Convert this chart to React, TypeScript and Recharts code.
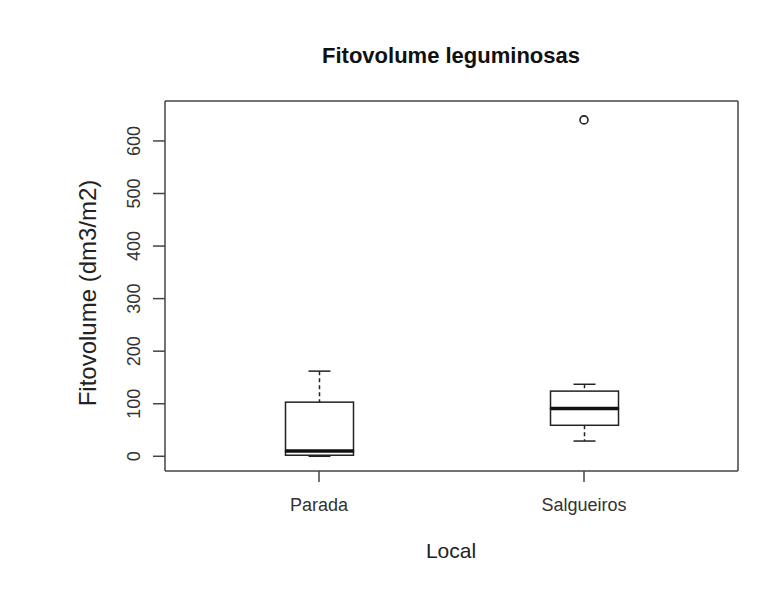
import React from "react";
import { ComposedChart, Bar, Scatter, XAxis, YAxis } from "recharts";

const categories = ["Parada", "Salgueiros"];
const whiskerLow = [0, 29];
const quartile1 = [2, 59];
const medians = [10, 91];
const quartile3 = [103, 124];
const whiskerHigh = [162, 137];
const outliers = [null, 640];
const yTicks = [0, 100, 200, 300, 400, 500, 600];

const font = "'Liberation Sans', Arial, sans-serif";
const ink = "#222";

// stacked pieces: invisible base, lower whisker, lower half of box, upper half, upper whisker
const rows = categories.map((local, i) => ({
  local,
  base: whiskerLow[i],
  lowWhisker: quartile1[i] - whiskerLow[i],
  lowerBox: medians[i] - quartile1[i],
  upperBox: quartile3[i] - medians[i],
  highWhisker: whiskerHigh[i] - quartile3[i],
  outlier: outliers[i],
}));

const CAP = 22;

const LowWhisker = (p: any) => {
  const cx = p.x + p.width / 2;
  const bottom = p.y + p.height;
  return (
    <g>
      <line x1={cx} x2={cx} y1={p.y} y2={bottom} stroke={ink} strokeWidth={1.5} strokeDasharray="4 3" />
      <line x1={cx - CAP / 2} x2={cx + CAP / 2} y1={bottom} y2={bottom} stroke={ink} strokeWidth={1.5} />
    </g>
  );
};

const HighWhisker = (p: any) => {
  const cx = p.x + p.width / 2;
  return (
    <g>
      <line x1={cx} x2={cx} y1={p.y} y2={p.y + p.height} stroke={ink} strokeWidth={1.5} strokeDasharray="4 3" />
      <line x1={cx - CAP / 2} x2={cx + CAP / 2} y1={p.y} y2={p.y} stroke={ink} strokeWidth={1.5} />
    </g>
  );
};

const BoxHalf = (p: any) => (
  <rect x={p.x} y={p.y} width={p.width} height={Math.max(p.height, 0)} fill="#fff" stroke={ink} strokeWidth={1.5} />
);

const UpperBox = (p: any) => {
  const bottom = p.y + p.height;
  return (
    <g>
      <rect x={p.x} y={p.y} width={p.width} height={Math.max(p.height, 0)} fill="#fff" stroke={ink} strokeWidth={1.5} />
      <line x1={p.x} x2={p.x + p.width} y1={bottom} y2={bottom} stroke="#111" strokeWidth={3.5} />
    </g>
  );
};

const OutlierDot = (p: any) => {
  if (p.payload?.outlier == null) return <g />;
  return <circle cx={p.cx} cy={p.cy} r={4} fill="none" stroke={ink} strokeWidth={1.6} />;
};

const YTick = ({ x, y, payload }: any) => (
  <text x={x - 13} y={y} transform={`rotate(-90 ${x - 13} ${y})`} textAnchor="middle" fontSize={18} fill="#333" fontFamily={font}>
    {payload.value}
  </text>
);

export default function App() {
  return (
    <div style={{ position: "absolute", left: 0, top: 0, width: 771, height: 590, background: "#fff" }}>
      <ComposedChart width={771} height={590} data={rows} margin={{ top: 100, right: 32, bottom: 69, left: 105 }} barSize={68}>
        <XAxis
          dataKey="local"
          height={50}
          padding={{ left: 21.5, right: 21.5 }}
          tickSize={11}
          tickMargin={16}
          stroke="#444"
          strokeWidth={1.5}
          tick={{ fontSize: 18, fill: "#333", fontFamily: font }}
        />
        <XAxis
          xAxisId="top"
          orientation="top"
          dataKey="local"
          height={1}
          padding={{ left: 21.5, right: 21.5 }}
          tick={false}
          tickLine={false}
          axisLine={{ stroke: "#444", strokeWidth: 1.5 }}
        />
        <YAxis
          domain={[-28, 676]}
          ticks={yTicks}
          width={60}
          tickSize={12}
          tickMargin={0}
          stroke="#444"
          strokeWidth={1.5}
          tick={<YTick />}
          allowDataOverflow
        />
        <YAxis
          yAxisId="right"
          orientation="right"
          domain={[-28, 676]}
          width={1}
          tick={false}
          tickLine={false}
          axisLine={{ stroke: "#444", strokeWidth: 1.5 }}
        />
        <Bar dataKey="base" stackId="b" fill="none" isAnimationActive={false} />
        <Bar dataKey="lowWhisker" stackId="b" shape={<LowWhisker />} isAnimationActive={false} />
        <Bar dataKey="lowerBox" stackId="b" shape={<BoxHalf />} isAnimationActive={false} />
        <Bar dataKey="upperBox" stackId="b" shape={<UpperBox />} isAnimationActive={false} />
        <Bar dataKey="highWhisker" stackId="b" shape={<HighWhisker />} isAnimationActive={false} />
        <Scatter dataKey="outlier" shape={<OutlierDot />} isAnimationActive={false} />
      </ComposedChart>
      <svg width={771} height={590} style={{ position: "absolute", left: 0, top: 0, pointerEvents: "none" }}>
        <text x={451} y={63} textAnchor="middle" fontSize={22} fontWeight="bold" fill="#111" fontFamily={font}>
          Fitovolume leguminosas
        </text>
        <text x={451} y={558} textAnchor="middle" fontSize={21} fill="#222" fontFamily={font}>
          Local
        </text>
        <text x={96} y={293} transform="rotate(-90 96 293)" textAnchor="middle" fontSize={24} fill="#222" fontFamily={font}>
          Fitovolume (dm3/m2)
        </text>
      </svg>
    </div>
  );
}
